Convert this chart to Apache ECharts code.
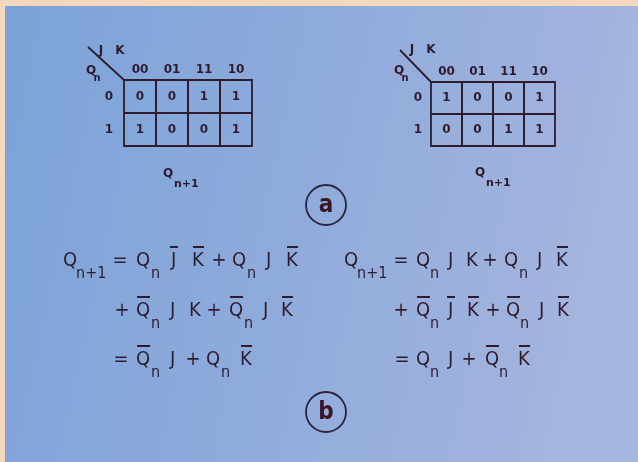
<!DOCTYPE html>
<html><head><meta charset="utf-8">
<script src="https://cdn.jsdelivr.net/npm/echarts@6/dist/echarts.min.js"></script>
<style>html,body{margin:0;padding:0;background:#f3d8bd}#c{width:638px;height:462px}</style>
</head><body><div id="c"></div>
<script>
// ---- data ----
const jkCategories = ['00', '01', '11', '10'];
const qnCategories = ['0', '1'];
// rows: Qn = 0, Qn = 1 ; columns: JK = 00,01,11,10
const mapA = [[0, 0, 1, 1], [1, 0, 0, 1]];
const mapB = [[1, 0, 0, 1], [0, 0, 1, 1]];

const INK = '#2e1c2e';
const EQ_FONT = "'DejaVu Sans Condensed','Liberation Sans Narrow','Roboto Condensed',sans-serif";
const MAP_FONT = "'DejaVu Sans',sans-serif";

function cells(m) {
  const out = [];
  m.forEach((row, r) => row.forEach((v, c) => out.push([c, r, v])));
  return out;
}

function renderCell(params, api) {
  const p = api.coord([api.value(0), api.value(1)]);
  const s = api.size([1, 1]);
  return {
    type: 'group',
    children: [
      { type: 'rect', shape: { x: p[0] - s[0] / 2, y: p[1] - s[1] / 2, width: s[0], height: s[1] },
        style: { fill: 'none', stroke: INK, lineWidth: 1.8 } },
      { type: 'text', style: { text: String(api.value(2)), x: p[0], y: p[1], align: 'center', verticalAlign: 'middle',
        fill: INK, font: 'bold 12px ' + MAP_FONT } }
    ]
  };
}

// ---- equation layout (token, x, overbar, subscript, subX) ----
const eqLines = [
  { y: 268, t: [['Q',63,0,'n+1',76],['=',120],['Q',136,0,'n',151],['J',171,1],['K',192,1],['+',219],['Q',232,0,'n',247],['J',266,0],['K',286,1]] },
  { y: 318, t: [['+',122],['Q',136,1,'n',151],['J',170,0],['K',189,0],['+',214],['Q',229,1,'n',244],['J',263,0],['K',281,1]] },
  { y: 367, t: [['=',121],['Q',136,1,'n',151],['J',170,0],['+',193],['Q',206,0,'n',221],['K',240,1]] },
  { y: 268, t: [['Q',344,0,'n+1',357],['=',401],['Q',416,0,'n',430],['J',448,0],['K',466,0],['+',490],['Q',504,0,'n',519],['J',537,0],['K',556,1]] },
  { y: 318, t: [['+',401],['Q',416,1,'n',430],['J',448,1],['K',467,1],['+',493],['Q',506,1,'n',520],['J',539,0],['K',557,1]] },
  { y: 367, t: [['=',402],['Q',416,0,'n',430],['J',448,0],['+',469],['Q',485,1,'n',499],['K',518,1]] }
];
const barW = { Q: [1, 13], J: [-1, 8], K: [1, 11] };

const g = [];
// background
g.push({ type: 'rect', z: -10, shape: { x: 0, y: 0, width: 638, height: 462 }, style: { fill: '#f3d8bd' } });
g.push({ type: 'rect', z: -9, shape: { x: 5, y: 6, width: 633, height: 456 },
  style: { fill: new echarts.graphic.LinearGradient(0, 0, 1, 0.3, [
    { offset: 0, color: '#7ba3d9' }, { offset: 0.5, color: '#8fabdb' }, { offset: 1, color: '#a5b5de' }]) } });

eqLines.forEach(line => {
  line.t.forEach(tk => {
    const [txt, x, bar, sub, sx] = tk;
    const isOp = txt === '=' || txt === '+';
    g.push({ type: 'text', style: { text: txt, x: x, y: line.y - 7, align: isOp ? 'center' : 'left', verticalAlign: 'middle',
      fill: INK, font: '20px ' + EQ_FONT } });
    if (bar) {
      const b = barW[txt];
      g.push({ type: 'line', shape: { x1: x + b[0], y1: line.y - 21, x2: x + b[0] + b[1], y2: line.y - 21 },
        style: { stroke: INK, lineWidth: 2 } });
    }
    if (sub) {
      g.push({ type: 'text', style: { text: sub, x: sx, y: line.y + 12 - 6, align: 'left', verticalAlign: 'middle',
        fill: INK, font: '16px ' + EQ_FONT } });
    }
  });
});

// map decorations
function mapDeco(d) {
  g.push({ type: 'line', shape: { x1: d.l[0], y1: d.l[1], x2: d.l[2], y2: d.l[3] }, style: { stroke: INK, lineWidth: 1.8 } });
  g.push({ type: 'text', style: { text: 'J', x: d.j[0], y: d.j[1], align: 'center', verticalAlign: 'middle', fill: INK, font: 'bold 12px ' + MAP_FONT } });
  g.push({ type: 'text', style: { text: 'K', x: d.k[0], y: d.k[1], align: 'center', verticalAlign: 'middle', fill: INK, font: 'bold 12px ' + MAP_FONT } });
  g.push({ type: 'text', style: { text: 'Q', x: d.q[0], y: d.q[1], align: 'center', verticalAlign: 'middle', fill: INK, font: 'bold 12px ' + MAP_FONT } });
  g.push({ type: 'text', style: { text: 'n', x: d.q[0] + 6, y: d.q[1] + 7, align: 'center', verticalAlign: 'middle', fill: INK, font: 'bold 10px ' + MAP_FONT } });
  g.push({ type: 'text', style: { text: 'Q', x: d.o[0], y: d.o[1], align: 'center', verticalAlign: 'middle', fill: INK, font: 'bold 12px ' + MAP_FONT } });
  g.push({ type: 'text', style: { text: 'n+1', x: d.o[0] + 6, y: d.o[1] + 10, align: 'left', verticalAlign: 'middle', fill: INK, font: 'bold 11px ' + MAP_FONT } });
}
mapDeco({ l: [88, 47, 124, 80], j: [101, 51], k: [120, 51], q: [91, 71], o: [168, 174] });
mapDeco({ l: [400, 50, 431, 82], j: [412, 50], k: [431, 50], q: [399, 71], o: [480, 173] });

// circled letters
[['a', 326, 205], ['b', 326, 412]].forEach(([t, x, y]) => {
  g.push({ type: 'circle', shape: { cx: x, cy: y, r: 20 }, style: { fill: 'none', stroke: '#2a2440', lineWidth: 1.8 } });
  g.push({ type: 'text', style: { text: t, x: x, y: y + 1, align: 'center', verticalAlign: 'middle', fill: '#3a1628', font: 'bold 24px ' + EQ_FONT } });
});

function axesFor(gi) {
  return {
    x: { type: 'category', gridIndex: gi, data: jkCategories, position: 'top',
      axisLine: { show: false }, axisTick: { show: false }, splitLine: { show: false },
      axisLabel: { color: INK, fontSize: 12, fontWeight: 'bold', fontFamily: MAP_FONT, margin: 4 } },
    y: { type: 'category', gridIndex: gi, data: qnCategories, inverse: true,
      axisLine: { show: false }, axisTick: { show: false }, splitLine: { show: false },
      axisLabel: { color: INK, fontSize: 12, fontWeight: 'bold', fontFamily: MAP_FONT, margin: gi === 0 ? 11 : 9 } }
  };
}
const a0 = axesFor(0), a1 = axesFor(1);

const chart = echarts.init(document.getElementById('c'), null, { renderer: 'canvas' });
chart.setOption({
  animation: false,
  backgroundColor: 'transparent',
  grid: [
    { left: 124, top: 80, width: 128, height: 66 },
    { left: 431, top: 82, width: 124, height: 64 }
  ],
  xAxis: [a0.x, a1.x],
  yAxis: [a0.y, a1.y],
  series: [
    { type: 'custom', xAxisIndex: 0, yAxisIndex: 0, data: cells(mapA), renderItem: renderCell },
    { type: 'custom', xAxisIndex: 1, yAxisIndex: 1, data: cells(mapB), renderItem: renderCell }
  ],
  graphic: g
});
</script>
</body></html>
